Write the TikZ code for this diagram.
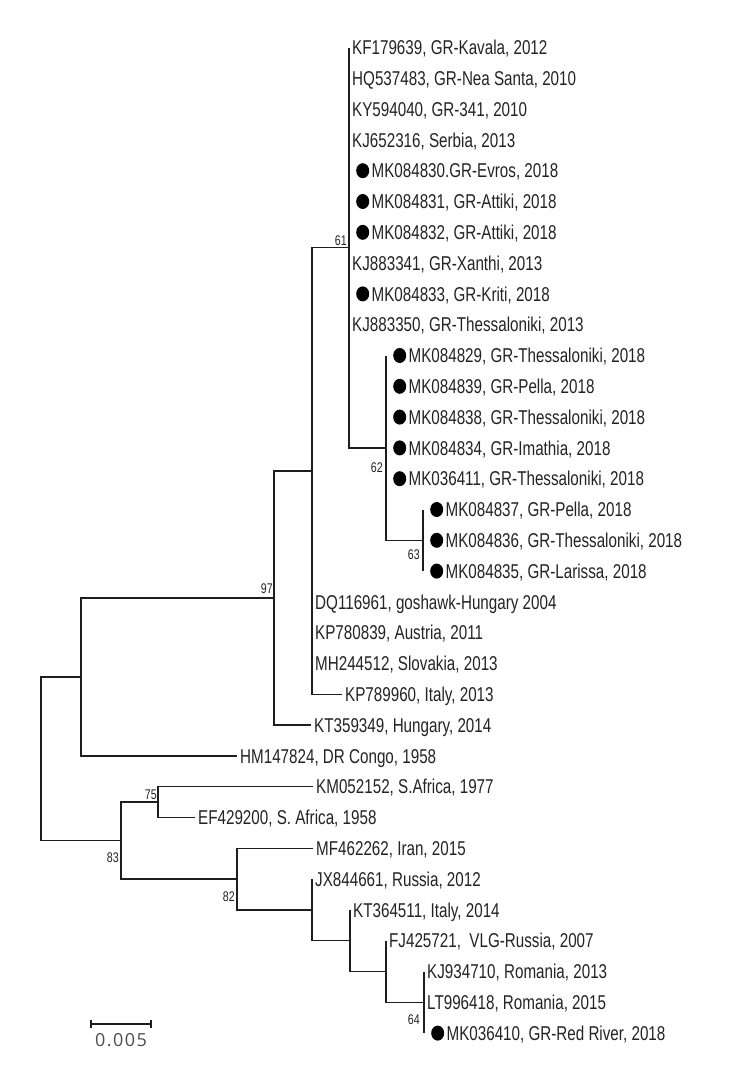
\documentclass[tikz,border=0pt]{standalone}
\usepackage{fontspec}
\setmainfont{Liberation Sans}[FakeStretch=0.76]
\newfontfamily\barfont{Open Sans}[LetterSpace=8]
\usepackage{tikz}
\usetikzlibrary{positioning, shapes.geometric}
\definecolor{treeink}{RGB}{30, 30, 30}
\definecolor{labelink}{RGB}{35, 35, 35}

\tikzset{
  branch/.style={draw=treeink, line width=1.4pt},
  taxon/.style={anchor=west, inner xsep=3pt, inner ysep=0pt,
                text height=14.3pt, text depth=0pt, text=labelink},
  isolate/.style={ellipse, fill=black, inner sep=0pt,
                  minimum width=13pt, minimum height=15pt},
  support/.style={font=\fontsize{14}{14}\selectfont, text=labelink,
                  inner sep=0pt, text height=10pt, text depth=0pt}
}

\begin{document}
\begin{tikzpicture}[x=1pt, y=-1pt, font=\fontsize{20}{20}\selectfont]
  \useasboundingbox (0,0) rectangle (742,1092);

  % internal nodes of the tree
  \coordinate (root) at (41, 758.8);
  \coordinate (nA)   at (81, 677);
  \coordinate (n97)  at (274, 598);
  \coordinate (nB)   at (312, 471);
  \coordinate (n61)  at (349, 247.7);
  \coordinate (n62)  at (386, 447.9);
  \coordinate (n63)  at (423, 540.3);
  \coordinate (nC)   at (121, 840.6);
  \coordinate (n75)  at (158, 802.1);
  \coordinate (n82)  at (237, 879.1);
  \coordinate (nD)   at (312, 909.9);
  \coordinate (nE)   at (350, 940.7);
  \coordinate (nF)   at (386, 971.5);
  \coordinate (n64)  at (424, 1002.3);

  % tips: row / branch end / greek isolate / label
  \foreach \i/\tx/\gr/\lbl in {
      1/349/0/{KF179639, GR-Kavala, 2012},
      2/349/0/{HQ537483, GR-Nea Santa, 2010},
      3/349/0/{KY594040, GR-341, 2010},
      4/349/0/{KJ652316, Serbia, 2013},
      5/349/1/{MK084830.GR-Evros, 2018},
      6/349/1/{MK084831, GR-Attiki, 2018},
      7/349/1/{MK084832, GR-Attiki, 2018},
      8/349/0/{KJ883341, GR-Xanthi, 2013},
      9/349/1/{MK084833, GR-Kriti, 2018},
      10/349/0/{KJ883350, GR-Thessaloniki, 2013},
      11/386/1/{MK084829, GR-Thessaloniki, 2018},
      12/386/1/{MK084839, GR-Pella, 2018},
      13/386/1/{MK084838, GR-Thessaloniki, 2018},
      14/386/1/{MK084834, GR-Imathia, 2018},
      15/386/1/{MK036411, GR-Thessaloniki, 2018},
      16/423/1/{MK084837, GR-Pella, 2018},
      17/423/1/{MK084836, GR-Thessaloniki, 2018},
      18/423/1/{MK084835, GR-Larissa, 2018},
      19/312/0/{DQ116961, goshawk-Hungary 2004},
      20/312/0/{KP780839, Austria, 2011},
      21/312/0/{MH244512, Slovakia, 2013},
      22/342/0/{KP789960, Italy, 2013},
      23/311/0/{KT359349, Hungary, 2014},
      24/237/0/{HM147824, DR Congo, 1958},
      25/313/0/{KM052152, S.Africa, 1977},
      26/195/0/{EF429200, S. Africa, 1958},
      27/313/0/{MF462262, Iran, 2015},
      28/312/0/{JX844661, Russia, 2012},
      29/350/0/{KT364511, Italy, 2014},
      30/386/0/{FJ425721,\ \ VLG-Russia, 2007},
      31/424/0/{KJ934710, Romania, 2013},
      32/424/0/{LT996418, Romania, 2015},
      33/424/1/{MK036410, GR-Red River, 2018}}{
    \pgfmathsetmacro{\yy}{47.5+30.8*(\i-1)}
    \coordinate (tip\i) at (\tx, \yy);
    \ifnum\gr=1
      \node[isolate, right=7pt of tip\i] (iso\i) {};
      \node[taxon, right=-1pt of iso\i] (leaf\i) {\lbl};
    \else
      \node[taxon, right=0pt of tip\i] (leaf\i) {\lbl};
    \fi
  }

  % branches
  \draw[branch] (root) |- (nA);
  \draw[branch] (root) |- (nC);
  \draw[branch] (nA) |- (n97);
  \draw[branch] (nA) |- (tip24);
  \draw[branch] (n97) |- (nB);
  \draw[branch] (n97) |- (tip23);
  \draw[branch] (nB) |- (n61);
  \foreach \i in {19,...,22} \draw[branch] (nB) |- (tip\i);
  \foreach \i in {1,...,10} \draw[branch] (n61) |- (tip\i);
  \draw[branch] (n61) |- (n62);
  \foreach \i in {11,...,15} \draw[branch] (n62) |- (tip\i);
  \draw[branch] (n62) |- (n63);
  \foreach \i in {16,...,18} \draw[branch] (n63) |- (tip\i);
  \draw[branch] (nC) |- (n75);
  \draw[branch] (nC) |- (n82);
  \draw[branch] (n75) |- (tip25);
  \draw[branch] (n75) |- (tip26);
  \draw[branch] (n82) |- (tip27);
  \draw[branch] (n82) |- (nD);
  \draw[branch] (nD) |- (tip28);
  \draw[branch] (nD) |- (nE);
  \draw[branch] (nE) |- (tip29);
  \draw[branch] (nE) |- (nF);
  \draw[branch] (nF) |- (tip30);
  \draw[branch] (nF) |- (n64);
  \foreach \i in {31,...,33} \draw[branch] (n64) |- (tip\i);

  % bootstrap values
  \node[support, above left=2pt and 2pt of n61] (bs61) {61};
  \node[support, below left=14pt and 3pt of n62] (bs62) {62};
  \node[support, below left=9pt and 3pt of n63] (bs63) {63};
  \node[support, below left=12pt and 4pt of n64] (bs64) {64};
  \node[support, above left=4pt and 1pt of n97] (bs97) {97};
  \node[support, above left=2pt and 1pt of n75] (bs75) {75};
  \node[support, below left=12pt and 2pt of nC] (bs83) {83};
  \node[support, below left=12pt and 2pt of n82] (bs82) {82};

  % scale bar
  \coordinate (barL) at (91, 1024);
  \coordinate (barR) at (151, 1024);
  \coordinate (barM) at (121, 1024);
  \draw[treeink, line width=1.2pt] (barL) -- (barR);
  \draw[treeink, line width=1.2pt] ([yshift=4pt]barL) -- ([yshift=-4pt]barL);
  \draw[treeink, line width=1.2pt] ([yshift=4pt]barR) -- ([yshift=-4pt]barR);
  \node[font=\barfont\fontsize{18}{18}\selectfont, text=black!70,
        below=6pt of barM] (barlabel) {0.005};
\end{tikzpicture}
\end{document}
